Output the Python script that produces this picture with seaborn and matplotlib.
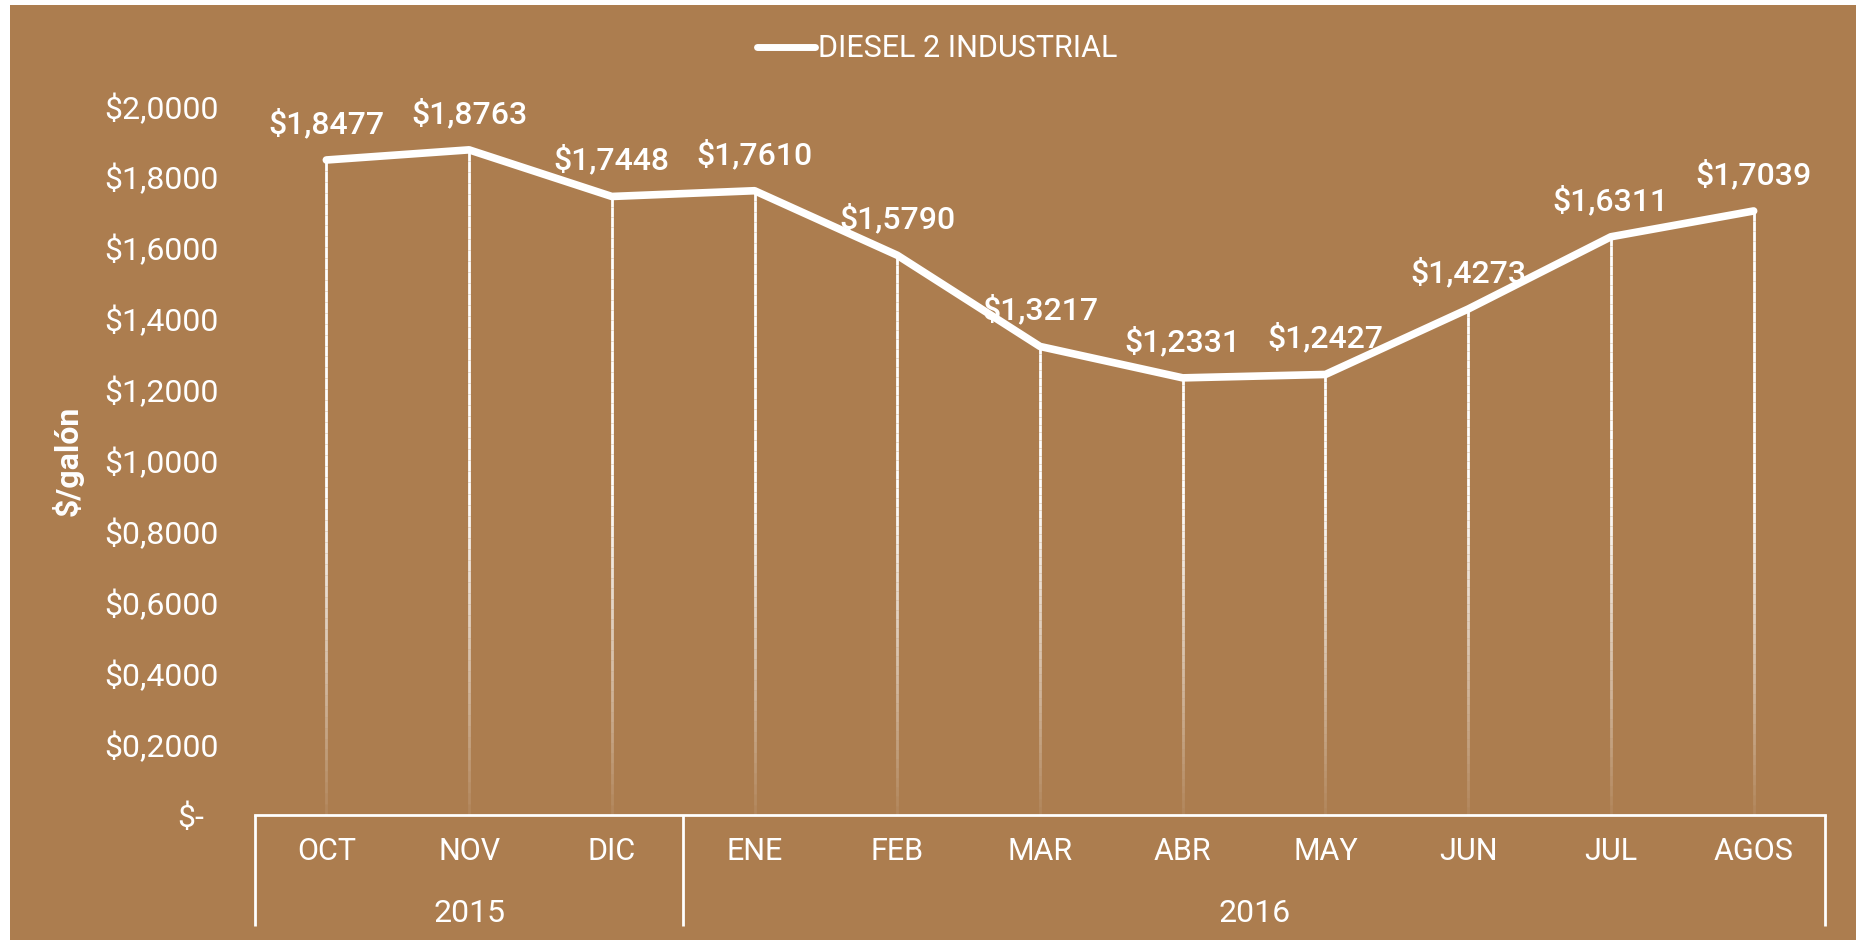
import numpy as np
import pandas as pd
import matplotlib
matplotlib.use('Agg')
import matplotlib.pyplot as plt
import matplotlib.transforms as mtransforms
from matplotlib.patches import Rectangle
import seaborn as sns

# datos del grafico
meses = ['OCT', 'NOV', 'DIC', 'ENE', 'FEB', 'MAR', 'ABR', 'MAY', 'JUN', 'JUL', 'AGOS']
anios = ['2015', '2016']
meses_por_anio = [3, 8]
precios = [1.8477, 1.8763, 1.7448, 1.7610, 1.5790, 1.3217, 1.2331, 1.2427, 1.4273, 1.6311, 1.7039]
yticks = [0.0, 0.2, 0.4, 0.6, 0.8, 1.0, 1.2, 1.4, 1.6, 1.8, 2.0]
serie = 'DIESEL 2 INDUSTRIAL'

FONDO = '#AC7D4F'
BLANCO = 'white'
FS = 23

sns.set_style('white')
plt.rcParams['font.family'] = ['Roboto', 'DejaVu Sans']

df = pd.DataFrame({'mes': meses, 'precio': precios})
x = np.arange(len(meses))

fig = plt.figure(figsize=(18.67, 9.40), dpi=100, facecolor='white')
fig.patches.append(Rectangle((10 / 1867, 0), 1846 / 1867, 1 - 5 / 940,
                             transform=fig.transFigure, facecolor=FONDO,
                             edgecolor='none', zorder=-10))
ax = fig.add_axes([255 / 1867, 1 - 815 / 940, 1570 / 1867, 709 / 940])
ax.set_facecolor('none')

# lineas verticales con degradado
segs, cols = [], []
for xi, v in zip(x, precios):
    ys = np.linspace(0, v, 61)
    for a, b in zip(ys[:-1], ys[1:]):
        m = (a + b) / 2
        alpha = float(np.clip(0.06 + m / 0.95, 0, 1))
        segs.append((xi, a, b))
        cols.append((1, 1, 1, alpha))
segs = np.array(segs)
ax.vlines(segs[:, 0], segs[:, 1], segs[:, 2], colors=cols, linewidth=2, zorder=2)

sns.lineplot(data=df, x=x, y='precio', color=BLANCO, linewidth=5.5, sort=False,
             label=serie, ax=ax, zorder=3, solid_capstyle='round', solid_joinstyle='round')

for xi, v in zip(x, precios):
    ax.annotate('$' + f'{v:.4f}'.replace('.', ','), (xi, v), xytext=(0, 26),
                textcoords='offset points', ha='center', va='center',
                color=BLANCO, fontsize=FS, fontweight='medium', zorder=4)

ax.set_xlim(-0.5, len(meses) - 0.5)
ax.set_ylim(0, 2.0)
ax.set_yticks(yticks)
ax.set_yticklabels(['$-' if t == 0 else '$' + f'{t:.4f}'.replace('.', ',') for t in yticks])
ax.set_xticks(x)
ax.set_xticklabels(meses)
ax.tick_params(axis='y', length=0, pad=26, labelsize=FS, labelcolor=BLANCO)
ax.tick_params(axis='x', length=0, pad=16, labelsize=FS - 1, labelcolor=BLANCO)
t0 = ax.yaxis.get_major_ticks()[0]
t0.label1.set_transform(t0.label1.get_transform() +
                        mtransforms.ScaledTranslation(-0.15, 0, fig.dpi_scale_trans))

ax.set_xlabel('')
ax.set_ylabel('$/galón', color=BLANCO, fontsize=FS, fontweight='bold')
ax.yaxis.set_label_coords(-0.109, 0.5)

for s in ['top', 'right', 'left']:
    ax.spines[s].set_visible(False)
ax.spines['bottom'].set_color(BLANCO)
ax.spines['bottom'].set_linewidth(2)

# eje de categorias de dos niveles
trans = mtransforms.blended_transform_factory(ax.transData, ax.transAxes)
fondo_caja = -111 / 709
limites = np.concatenate([[0], np.cumsum(meses_por_anio)]) - 0.5
for b in limites:
    ax.plot([b, b], [0, fondo_caja], transform=trans, color=BLANCO, linewidth=2,
            clip_on=False, solid_capstyle='butt')
for anio, a, b in zip(anios, limites[:-1], limites[1:]):
    ax.text((a + b) / 2, -99 / 709, anio, transform=trans, ha='center', va='center',
            color=BLANCO, fontsize=FS)

leg = ax.legend(loc='center', bbox_to_anchor=(0.502, 0.948),
                bbox_transform=fig.transFigure, frameon=False, fontsize=FS - 1,
                handlelength=1.9, handletextpad=0.1, labelcolor=BLANCO)
for h in leg.get_lines():
    h.set_linewidth(5)
    h.set_solid_capstyle('round')

fig.savefig('out.png', dpi=100, facecolor='white')
